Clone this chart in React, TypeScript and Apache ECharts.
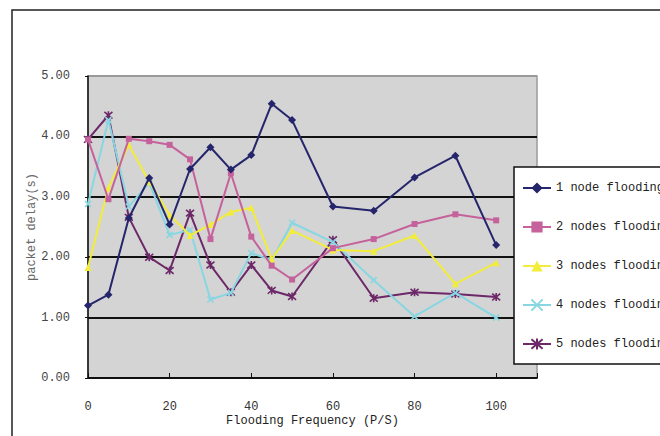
import React, { useEffect, useRef } from "react";
import * as echarts from "echarts";

const frequencies = [0, 5, 10, 15, 20, 25, 30, 35, 40, 45, 50, 60, 70, 80, 90, 100];
const node1 = [1.2, 1.38, 2.65, 3.31, 2.54, 3.46, 3.82, 3.45, 3.69, 4.54, 4.27, 2.84, 2.77, 3.32, 3.68, 2.2];
const node2 = [3.95, 2.96, 3.96, 3.92, 3.86, 3.62, 2.3, 3.39, 2.34, 1.86, 1.63, 2.15, 2.3, 2.55, 2.71, 2.61];
const node3 = [1.83, 3.15, 3.86, 3.25, 2.7, 2.36, 2.54, 2.75, 2.82, 1.97, 2.44, 2.12, 2.1, 2.36, 1.56, 1.91];
const node4 = [2.88, 4.27, 2.84, 3.23, 2.37, 2.45, 1.3, 1.41, 2.07, 1.95, 2.57, 2.25, 1.62, 1.02, 1.41, 1.0];
const node5 = [3.95, 4.35, 2.66, 2.0, 1.78, 2.73, 1.87, 1.42, 1.87, 1.45, 1.35, 2.29, 1.32, 1.42, 1.39, 1.34];
const seriesNames = ["1 node flooding", "2 nodes flooding", "3 nodes flooding", "4 nodes flooding", "5 nodes flooding"];
const yTicks = [0, 1, 2, 3, 4, 5];

const colors = ["#25256c", "#c5629c", "#f2ec3a", "#88d6e2", "#6c2868"];
const symbols = [
  "diamond",
  "rect",
  "triangle",
  "path://M0,0L10,10M10,0L0,10",
  "path://M0,0L10,10M10,0L0,10M5,-1L5,11",
];
const symbolSizes = [8, 6, 7, 6, 8];
const allData = [node1, node2, node3, node4, node5];

const mono = "'Liberation Mono', 'DejaVu Sans Mono', monospace";

export default function App() {
  const ref = useRef<HTMLDivElement>(null);
  useEffect(() => {
    if (!ref.current) return;
    const chart = echarts.init(ref.current, null, { renderer: "svg" });
    chart.setOption({
      animation: false,
      backgroundColor: "#ffffff",
      grid: {
        left: 88,
        top: 76,
        right: 123,
        bottom: 58,
        show: true,
        backgroundColor: "#d4d4d4",
        borderColor: "#9a9a9a",
        borderWidth: 1.5,
      },
      xAxis: {
        type: "value",
        min: 0,
        max: 110,
        interval: 20,
        name: "Flooding Frequency (P/S)",
        nameLocation: "middle",
        nameGap: 37,
        nameMoveOverlap: false,
        nameTextStyle: { fontFamily: mono, fontSize: 12, color: "#222" },
        axisLine: { show: true, lineStyle: { color: "#111", width: 1.5 } },
        axisTick: { show: true, inside: true, length: 5, lineStyle: { color: "#111", width: 1 } },
        axisLabel: {
          margin: 23,
          fontFamily: mono,
          fontSize: 12,
          color: "#333",
          formatter: (v: number) => (v > 100 ? "" : String(v)),
        },
        splitLine: { show: false },
      },
      yAxis: {
        type: "value",
        min: 0,
        max: 5,
        interval: 1,
        name: "packet delay(s)",
        nameLocation: "middle",
        nameGap: 50,
        nameRotate: 90,
        nameMoveOverlap: false,
        nameTextStyle: { fontFamily: mono, fontSize: 12, color: "#666" },
        axisLine: { show: true, lineStyle: { color: "#111", width: 1.5 } },
        axisTick: { show: true, length: 3, lineStyle: { color: "#111" } },
        axisLabel: {
          margin: 18,
          fontFamily: mono,
          fontSize: 12,
          color: "#444",
          formatter: (v: number) => (yTicks.includes(v) ? v.toFixed(2) : ""),
        },
        splitLine: {
          show: true,
          lineStyle: {
            color: ["#111", "#111", "#111", "#111", "#111", "#9a9a9a"],
            width: 1.8,
          },
        },
      },
      legend: {
        orient: "vertical",
        left: 514,
        top: 167,
        padding: [13, 60, 12, 8],
        itemGap: 23,
        itemWidth: 28,
        itemHeight: 14,
        backgroundColor: "#ffffff",
        borderColor: "#111",
        borderWidth: 1.5,
        textStyle: { fontFamily: mono, fontSize: 12, color: "#222", lineHeight: 16 },
        data: seriesNames,
      },
      graphic: [
        {
          type: "rect",
          shape: { x: 12, y: 10, width: 800, height: 600 },
          style: { fill: "none", stroke: "#222", lineWidth: 1.5 },
          silent: true,
          z: 100,
        },
      ],
      series: allData.map((d, i) => ({
        name: seriesNames[i],
        type: "line",
        data: frequencies.map((f, j) => [f, d[j]]),
        symbol: symbols[i],
        symbolSize: symbolSizes[i],
        showAllSymbol: true,
        lineStyle: { color: colors[i], width: 2 },
        itemStyle: {
          color: colors[i],
          borderColor: colors[i],
          borderWidth: i >= 3 ? 1.6 : 0,
        },
        z: 10 - i,
      })),
    });
    return () => chart.dispose();
  }, []);
  return (
    <div
      ref={ref}
      style={{ position: "fixed", left: 0, top: 0, width: 660, height: 436 }}
    />
  );
}
